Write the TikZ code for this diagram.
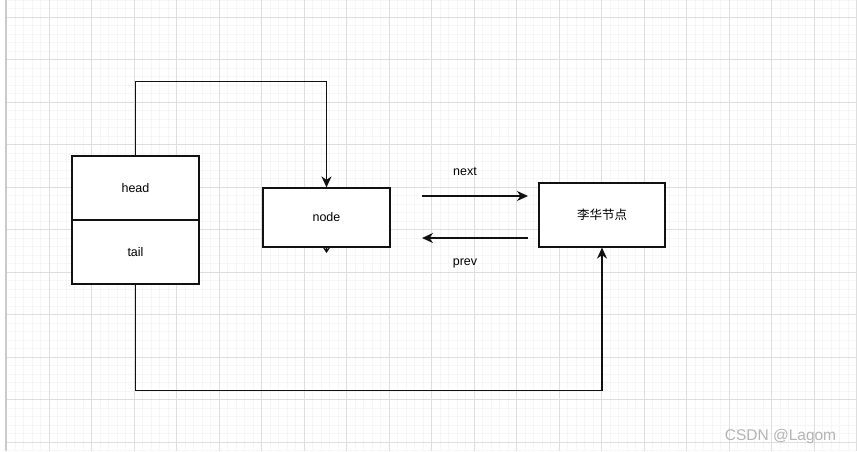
\documentclass[tikz,border=0pt]{standalone}
\usepackage{fontspec}
\setmainfont{Liberation Sans}
\newfontfamily\cjk{Noto Sans CJK SC}
\usepackage{xcolor}
\definecolor{cLine}{HTML}{111111}
\definecolor{cMinor}{HTML}{F6F6F6}
\definecolor{cMajor}{HTML}{DEDEDE}
\definecolor{cMark}{HTML}{B4B4B4}
\usetikzlibrary{positioning,arrows.meta}
\tikzset{
  node-box/.style={draw=cLine,line width=1.2pt,fill=white,inner sep=0pt,
    minimum width=127pt,minimum height=64pt,align=center,
    font=\fontsize{12.5}{14}\selectfont},
  node-label/.style={inner sep=0pt,font=\fontsize{12.5}{14}\selectfont},
  arrow/.style={-{Stealth[length=11pt,width=10pt,inset=3.5pt]},line width=1.4pt,draw=cLine},
  grid-minor/.style={draw=cMinor,line width=0.6pt},
  grid-major/.style={draw=cMajor,line width=0.7pt},
}

\begin{document}
\begin{tikzpicture}[x=1pt,y=-1pt]
  \useasboundingbox (0,0) rectangle (857,451);
  \fill[white] (0,0) rectangle (857,451);
  % background grid
  \foreach \gx in {0,...,100} \draw[grid-minor] (6.5+8.5*\gx,0) -- (6.5+8.5*\gx,451);
  \foreach \gy in {0,...,53} \draw[grid-minor] (6.5,8.5*\gy) -- (857,8.5*\gy);
  \foreach \gx in {0,...,20} \draw[grid-major] (6.5+42.5*\gx,0) -- (6.5+42.5*\gx,451);
  \foreach \gy in {0,...,10} \draw[grid-major] (6.5,17+42.5*\gy) -- (857,17+42.5*\gy);
  \draw[draw=cMark!70,line width=1.5pt] (6,0) -- (6,451);

  % list header
  \node[node-box] (head) at (135.5,188) {head};
  \node[node-box] (tail) at (135.5,252) {tail};
  % nodes
  \node[node-box,minimum height=59pt] (node) at (326.5,217.5) {node};
  \node[node-box,minimum width=126pt] (lihua) at (602,215) {\cjk 李华节点};

  \draw[arrow] (head.north) -- ++(0,-74) -| (node.north);
  \draw[arrow] (tail.south) -- ++(0,106) -| (lihua.south);
  \coordinate (node-stub) at ([yshift=-5.5pt]node.south);
  \draw[-{Stealth[length=5.5pt,width=7pt,inset=1.5pt]},line width=1pt,draw=cLine] (node.south) -- (node-stub);

  \coordinate (next-from) at (422,196);
  \coordinate (next-to) at (528,196);
  \coordinate (prev-from) at (528,238);
  \coordinate (prev-to) at (422,238);
  \draw[arrow] (next-from) -- (next-to);
  \draw[arrow] (prev-from) -- (prev-to);
  \node[node-label] (next) at (465,172) {next};
  \node[node-label] (prev) at (465,263) {prev};

  \node[inner sep=0pt,text=cMark,font=\fontsize{15.5}{17}\selectfont] (mark) at (780.5,436) {CSDN @Lagom};
\end{tikzpicture}
\end{document}
